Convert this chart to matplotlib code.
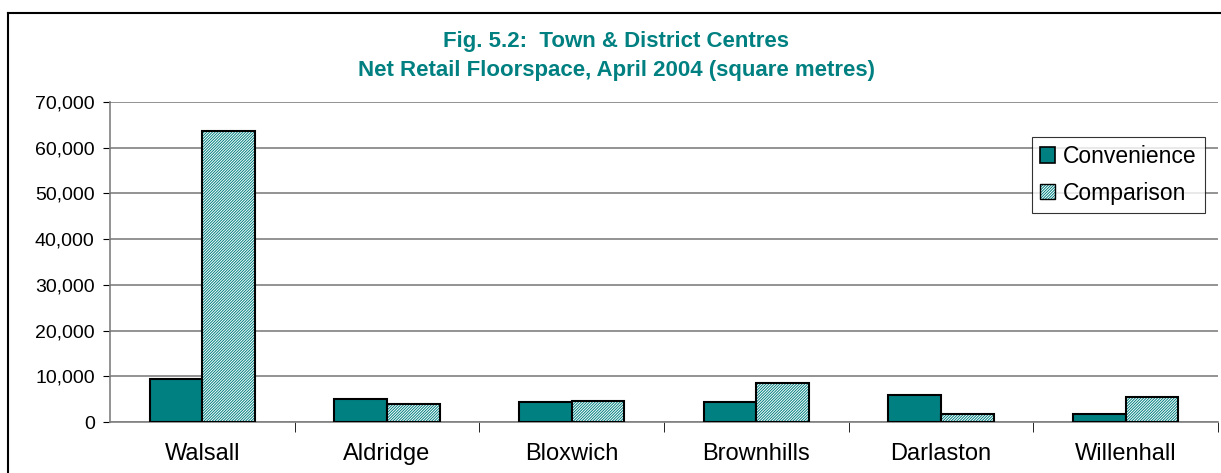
import matplotlib
matplotlib.use("Agg")
import matplotlib.pyplot as plt
import numpy as np
from matplotlib.patches import Patch
from matplotlib.lines import Line2D
from matplotlib.ticker import FuncFormatter
from matplotlib.legend_handler import HandlerTuple

# data (square metres)
centres = ["Walsall", "Aldridge", "Bloxwich", "Brownhills", "Darlaston", "Willenhall"]
convenience = [9300, 5000, 4300, 4300, 6000, 1750]
comparison = [63700, 3900, 4650, 8450, 1750, 5550]

teal = "#008080"
plt.rcParams["font.family"] = ["Liberation Sans", "DejaVu Sans"]
plt.rcParams["hatch.linewidth"] = 0.7
dense = "/" * 12

fig = plt.figure(figsize=(12.21, 4.73), dpi=100)
ax = fig.add_axes([110 / 1221, 1 - 422 / 473, 1108 / 1221, 320 / 473])

x = np.arange(len(centres))
w = 1 / 3.5

ax.bar(x - w / 2, convenience, w, color=teal, edgecolor="black", linewidth=1.5, zorder=3)
# hatched comparison bars: teal hatch layer, then black outline on top
ax.bar(x + w / 2, comparison, w, color="white", edgecolor=teal, hatch=dense, linewidth=0, zorder=3)
ax.bar(x + w / 2, comparison, w, color="none", edgecolor="black", linewidth=1.5, zorder=4)

ax.set_xlim(-0.5, len(centres) - 0.5)
ax.set_ylim(0, 70000)
ax.set_yticks(np.arange(0, 70001, 10000))
ax.yaxis.set_major_formatter(FuncFormatter(lambda v, p: f"{int(v):,}"))
ax.grid(axis="y", color="#808080", linewidth=1.2, zorder=0)

ax.set_xticks(x)
ax.set_xticklabels(centres)
ax.set_xticks(np.arange(0.5, len(centres)), minor=True)
ax.tick_params(axis="x", which="major", length=0, pad=15, labelsize=17)
ax.tick_params(axis="x", which="minor", length=7, color="black")
ax.tick_params(axis="y", length=5, labelsize=14, pad=6)

for s in ["top", "right"]:
    ax.spines[s].set_visible(False)
ax.spines["left"].set_color("#808080")
ax.spines["bottom"].set_color("#808080")
ax.spines["left"].set_linewidth(1.2)
ax.spines["bottom"].set_linewidth(1.2)

# legend
h_conv = Patch(facecolor=teal, edgecolor="black", linewidth=1.2)
h_comp = (Patch(facecolor="white", edgecolor=teal, hatch=dense, linewidth=0),
          Patch(facecolor="none", edgecolor="black", linewidth=1.0))
leg = ax.legend([h_conv, h_comp], ["Convenience", "Comparison"],
                handler_map={tuple: HandlerTuple(ndivide=1)},
                loc="upper left", bbox_to_anchor=((1032 - 110) / 1108, (422 - 137) / 320),
                fontsize=16.5, frameon=True, fancybox=False, edgecolor="black",
                handlelength=0.65, handleheight=0.65, handletextpad=0.35,
                borderpad=0.35, labelspacing=0.6, borderaxespad=0)
leg.get_frame().set_linewidth(0.8)
leg.set_zorder(5)

# title
fig.text(616 / 1221, 1 - 56 / 473, "Fig. 5.2:  Town & District Centres\nNet Retail Floorspace, April 2004 (square metres)",
         ha="center", va="center", color=teal, fontsize=16, fontweight="bold", linespacing=1.5)

# outer chart frame (top and left only visible)
fig.add_artist(Line2D([8 / 1221, 1.0], [1 - 13 / 473] * 2, color="black", linewidth=1.5, transform=fig.transFigure))
fig.add_artist(Line2D([8 / 1221] * 2, [0, 1 - 13 / 473], color="black", linewidth=1.5, transform=fig.transFigure))

fig.savefig("out.png", dpi=100)
